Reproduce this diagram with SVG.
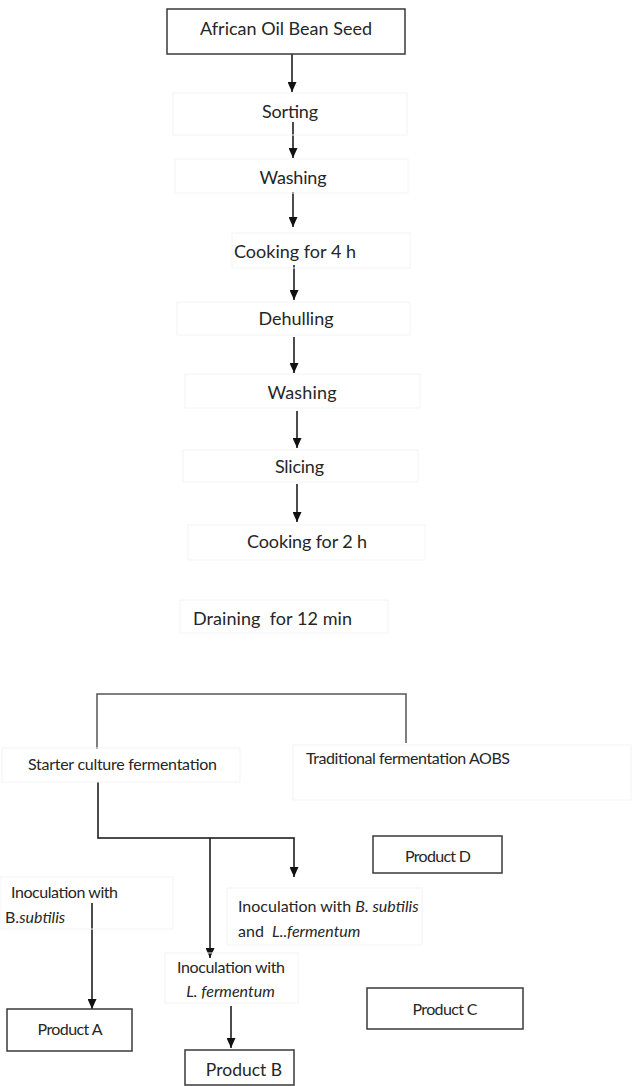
<svg xmlns="http://www.w3.org/2000/svg" width="632" height="1086" viewBox="0 0 632 1086">
<defs>
<marker id="ah" markerUnits="userSpaceOnUse" markerWidth="10" markerHeight="9" refX="10" refY="4.5" orient="auto">
<path d="M0,0 L10,4.5 L0,9 z" fill="#111"/>
</marker>
<style>
text{font-family:"Lato","Liberation Sans",sans-serif;fill:#262626;white-space:pre}
.t{font-size:18px}
.s{font-size:16px}
.m{text-anchor:middle}
.box{fill:#fff;stroke:#3a3a3a;stroke-width:1.5}
.faint{fill:none;stroke:#f4f4f4;stroke-width:1}
.ln{fill:none;stroke:#111;stroke-width:1.5}
.br{fill:none;stroke:#555;stroke-width:1.5}
.i{font-style:italic}
</style>
</defs>
<rect width="632" height="1086" fill="#fff"/>
<g id="connectors">
<line class="ln" x1="292" y1="54" x2="292" y2="92" marker-end="url(#ah)"/>
<line class="ln" x1="293" y1="122" x2="293" y2="158" marker-end="url(#ah)"/>
<line class="ln" x1="293" y1="192" x2="293" y2="227" marker-end="url(#ah)"/>
<line class="ln" x1="294" y1="265" x2="294" y2="300" marker-end="url(#ah)"/>
<line class="ln" x1="294" y1="337" x2="294" y2="373" marker-end="url(#ah)"/>
<line class="ln" x1="297" y1="411" x2="297" y2="448" marker-end="url(#ah)"/>
<line class="ln" x1="297" y1="484" x2="297" y2="522" marker-end="url(#ah)"/>
<polyline class="br" points="97,749 97,694 406,694 406,743"/>
<polyline class="ln" points="98,782 98,838 294,838 294,877" marker-end="url(#ah)"/>
<line class="ln" x1="210" y1="838" x2="210" y2="958" marker-end="url(#ah)"/>
<line class="ln" x1="92" y1="903" x2="92" y2="1009" marker-end="url(#ah)"/>
<line class="ln" x1="231" y1="1006" x2="231" y2="1048" marker-end="url(#ah)"/>
</g>
<g id="n-seed"><rect class="box" x="167" y="9" width="238" height="45"/><text class="t m" x="286" y="35" textLength="172">African Oil Bean Seed</text></g>
<g id="n-sorting"><rect class="faint" x="173" y="93" width="234" height="42"/><text class="t m" x="290" y="118" textLength="56">Sorting</text></g>
<g id="n-washing1"><rect class="faint" x="175" y="159" width="233" height="34"/><text class="t m" x="293" y="184" textLength="67">Washing</text></g>
<g id="n-cook4"><rect class="faint" x="232" y="233" width="178" height="35"/><text class="t m" x="295" y="258" textLength="122">Cooking for 4 h</text></g>
<g id="n-dehull"><rect class="faint" x="177" y="302" width="233" height="33"/><text class="t m" x="296" y="325" textLength="75">Dehulling</text></g>
<g id="n-washing2"><rect class="faint" x="185" y="374" width="235" height="34"/><text class="t m" x="302" y="399" textLength="69">Washing</text></g>
<g id="n-slicing"><rect class="faint" x="183" y="450" width="235" height="32"/><text class="t m" x="299.5" y="473" textLength="49">Slicing</text></g>
<g id="n-cook2"><rect class="faint" x="188" y="525" width="237" height="35"/><text class="t m" x="307" y="548" textLength="120">Cooking for 2 h</text></g>
<g id="n-drain"><rect class="faint" x="180" y="600" width="208" height="33"/><text class="t m" x="272.5" y="625" textLength="159">Draining  for 12 min</text></g>
<g id="n-starter"><rect class="faint" x="2" y="748" width="238" height="34"/><text class="s m" x="122.5" y="770" textLength="189">Starter culture fermentation</text></g>
<g id="n-trad"><rect class="faint" x="293" y="745" width="338" height="55"/><text class="s m" x="408" y="764" textLength="204">Traditional fermentation AOBS</text></g>
<g id="n-prodD"><rect class="box" x="373" y="836" width="129" height="37"/><text class="s m" x="438" y="862" textLength="66">Product D</text></g>
<g id="n-inocB"><rect class="faint" x="0" y="877" width="173" height="52"/><text class="s" x="11" y="898" textLength="107">Inoculation with</text><text class="s" x="5" y="923">B.<tspan class="i">subtilis</tspan></text></g>
<g id="n-inocBL"><rect class="faint" x="227" y="888" width="195" height="57"/><text class="s" x="238" y="912">Inoculation with <tspan class="i">B. subtilis</tspan></text><text class="s" x="238" y="937">and  <tspan class="i">L..fermentum</tspan></text></g>
<g id="n-inocL"><rect class="faint" x="165" y="953" width="133" height="50"/><text class="s m" x="231" y="973" textLength="108">Inoculation with</text><text class="s m i" x="230.5" y="997">L. fermentum</text></g>
<g id="n-prodA"><rect class="box" x="7" y="1009" width="125" height="42"/><text class="s m" x="70" y="1035" textLength="65">Product A</text></g>
<g id="n-prodB"><rect class="box" x="185" y="1050" width="109" height="35"/><text class="s m" x="244" y="1076" style="font-size:17.5px">Product B</text></g>
<g id="n-prodC"><rect class="box" x="367" y="988" width="156" height="41"/><text class="s m" x="445" y="1015" textLength="65">Product C</text></g>
</svg>
